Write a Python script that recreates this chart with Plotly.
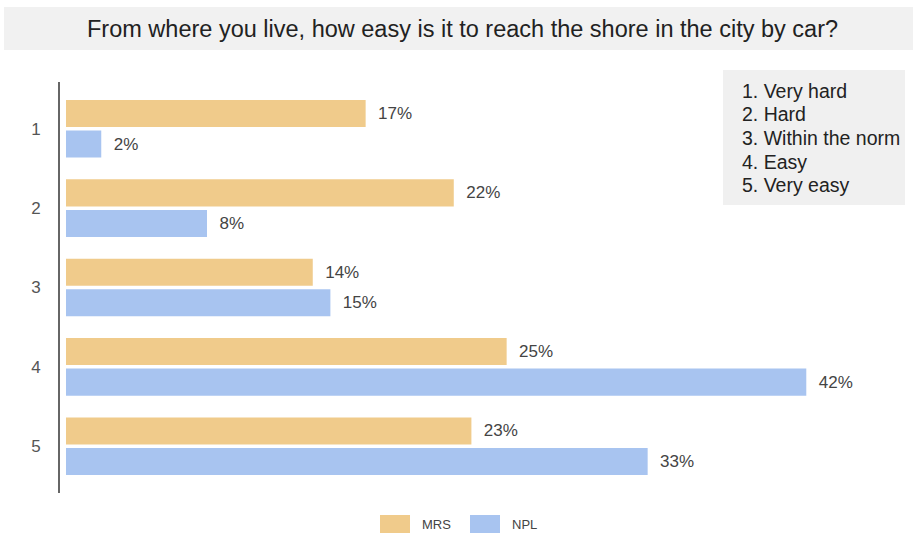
import plotly.graph_objects as go

categories = ["1", "2", "3", "4", "5"]
mrs_values = [17, 22, 14, 25, 23]
npl_values = [2, 8, 15, 42, 33]
series_names = ["MRS", "NPL"]
series_colors = ["#f0cb8b", "#a8c4f0"]
scale_labels = ["1. Very hard", "2. Hard", "3. Within the norm", "4. Easy", "5. Very easy"]
title_text = "From where you live, how easy is it to reach the shore in the city by car?"

W, H = 913, 538
ML, MR, MT, MB = 60, 8, 82, 45
PW, PH = W - ML - MR, H - MT - MB
FONT = "Liberation Sans, Arial, sans-serif"


def px(x):
    return (x - ML) / PW


def py(y):
    return ((H - MB) - y) / PH


fig = go.Figure()
for name, vals, col in zip(series_names, [mrs_values, npl_values], series_colors):
    fig.add_trace(go.Bar(
        y=categories, x=vals, name=name, orientation="h",
        marker=dict(color=col, line=dict(width=0)),
        text=["  %d%%" % v for v in vals],
        textposition="outside", cliponaxis=False,
        textfont=dict(family=FONT, size=17, color="#444"),
    ))

# legend drawn as shapes + annotations (large swatches)
sw_x = [380, 470]
for name, col, x0 in zip(series_names, series_colors, sw_x):
    fig.add_shape(type="rect", xref="paper", yref="paper",
                  x0=px(x0), x1=px(x0 + 30), y0=py(533), y1=py(515),
                  fillcolor=col, line=dict(width=0), layer="above")
    fig.add_annotation(xref="paper", yref="paper",
                       x=px(x0 + 40), y=py(524),
                       text=name, showarrow=False, xanchor="left", yanchor="middle",
                       font=dict(family=FONT, size=13, color="#444"))

# title box
fig.add_shape(type="rect", xref="paper", yref="paper",
              x0=px(4), x1=px(913), y0=py(50), y1=py(7),
              fillcolor="#f1f1f1", line=dict(width=0), layer="below")
fig.add_annotation(xref="paper", yref="paper",
                   x=px(462), y=py(29),
                   text=title_text, showarrow=False, xanchor="center", yanchor="middle",
                   font=dict(family=FONT, size=23.5, color="#222"))

# scale description box
fig.add_shape(type="rect", xref="paper", yref="paper",
              x0=px(723), x1=px(905), y0=py(205), y1=py(70),
              fillcolor="#f0f0f0", line=dict(width=0), layer="below")
for i, lab in enumerate(scale_labels):
    fig.add_annotation(xref="paper", yref="paper",
                       x=px(740), y=py(91 + 23.5 * i),
                       xanchor="left", yanchor="middle",
                       text=lab, showarrow=False,
                       font=dict(family=FONT, size=19.5, color="#222"))

fig.update_layout(
    width=W, height=H,
    margin=dict(l=ML, r=MR, t=MT, b=MB),
    paper_bgcolor="white", plot_bgcolor="white",
    showlegend=False,
    barmode="group", bargap=0.23, bargroupgap=0.115,
    xaxis=dict(range=[-0.34, 47.6], showgrid=False, zeroline=False, showticklabels=False,
               showline=False, ticks=""),
    yaxis=dict(range=[4.59, -0.59], type="category", showgrid=False, zeroline=False,
               showline=True, linecolor="#666", linewidth=2, ticks="",
               tickfont=dict(family=FONT, size=17, color="#555"),
               ticklabelstandoff=14),
)

fig.write_html("out.html", config={"displayModeBar": False},
               post_script="document.body.style.margin='0';")
